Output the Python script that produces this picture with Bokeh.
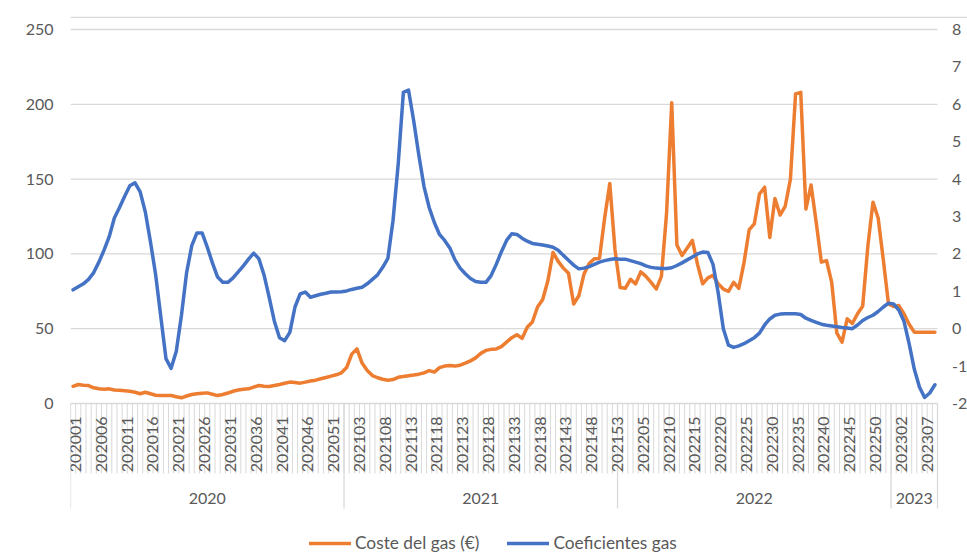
import math
from bokeh.plotting import figure
from bokeh.models import Range1d, FixedTicker
from bokeh.core.properties import value
from bokeh.embed import file_html
from bokeh.resources import INLINE

# ---------------- data ----------------
years = ["2020", "2021", "2022", "2023"]
weeks_per_year = [53, 53, 53, 9]

coste_gas = [
    11.5, 12.7, 12.2, 12.0, 10.5, 9.8, 9.5, 9.8, 9.0, 8.8,
    8.5, 8.2, 7.5, 6.5, 7.5, 6.5, 5.5, 5.3, 5.3, 5.3,
    4.5, 3.8, 5.0, 6.0, 6.5, 6.8, 7.1, 6.2, 5.3, 6.0,
    7.0, 8.2, 9.0, 9.5, 9.8, 11.0, 12.0, 11.6, 11.4, 12.0,
    12.7, 13.5, 14.3, 14.0, 13.6, 14.3, 15.0, 15.6, 16.5, 17.4,
    18.3, 19.2, 20.5, 24.0, 33.0, 36.5, 27.0, 22.0, 18.7, 17.2,
    16.2, 15.5, 16.0, 17.5, 18.0, 18.5, 19.0, 19.6, 20.5, 22.0,
    21.0, 24.0, 25.0, 25.4, 25.0, 25.6, 27.0, 28.5, 30.5, 33.5,
    35.5, 36.2, 36.5, 38.0, 41.0, 44.0, 46.0, 43.5, 51.0, 54.5,
    64.5, 69.5, 82.0, 101.0, 95.0, 90.5, 87.0, 66.5, 72.0, 86.5,
    93.5, 96.7, 97.0, 124.0, 147.0, 103.0, 77.5, 77.0, 83.0, 80.0,
    88.0, 85.0, 81.0, 76.5, 85.0, 127.0, 201.0, 106.0, 99.0, 104.0,
    109.0, 93.0, 80.0, 84.0, 85.6, 80.0, 76.5, 75.0, 81.0, 77.0,
    94.0, 116.0, 120.0, 140.0, 144.6, 111.0, 137.0, 126.0, 132.0, 150.0,
    207.0, 208.0, 130.0, 146.0, 121.0, 94.5, 95.5, 81.0, 47.0, 41.0,
    56.6, 53.5, 60.0, 65.0, 105.0, 134.6, 124.0, 96.0, 66.6, 64.8,
    65.5, 60.0, 53.0, 47.7, 47.7, 47.7, 47.7, 47.7,
]

coeficientes_gas = [
    1.04, 1.12, 1.2, 1.32, 1.5, 1.78, 2.1, 2.46, 2.96, 3.24,
    3.54, 3.82, 3.9, 3.66, 3.12, 2.32, 1.44, 0.32, -0.8, -1.06,
    -0.6, 0.36, 1.5, 2.22, 2.56, 2.56, 2.18, 1.76, 1.38, 1.24,
    1.24, 1.36, 1.52, 1.68, 1.86, 2.02, 1.87, 1.44, 0.84, 0.2,
    -0.24, -0.32, -0.1, 0.58, 0.93, 0.98, 0.84, 0.88, 0.92, 0.95,
    0.98, 0.98, 0.99, 1.01, 1.05, 1.08, 1.11, 1.2, 1.32, 1.44,
    1.64, 1.88, 2.9, 4.4, 6.32, 6.38, 5.56, 4.64, 3.8, 3.24,
    2.84, 2.52, 2.36, 2.16, 1.84, 1.62, 1.47, 1.34, 1.26, 1.24,
    1.24, 1.42, 1.72, 2.06, 2.36, 2.54, 2.52, 2.42, 2.34, 2.28,
    2.26, 2.24, 2.21, 2.18, 2.1, 1.96, 1.83, 1.7, 1.6, 1.62,
    1.66, 1.72, 1.78, 1.82, 1.85, 1.87, 1.86, 1.86, 1.82, 1.78,
    1.74, 1.68, 1.64, 1.62, 1.61, 1.61, 1.63, 1.69, 1.76, 1.84,
    1.92, 2.0, 2.05, 2.04, 1.72, 0.96, 0.0, -0.44, -0.5, -0.46,
    -0.4, -0.32, -0.24, -0.12, 0.1, 0.26, 0.36, 0.39, 0.4, 0.4,
    0.4, 0.38, 0.28, 0.22, 0.17, 0.12, 0.09, 0.07, 0.05, 0.03,
    0.02, 0.0, 0.1, 0.22, 0.3, 0.36, 0.46, 0.58, 0.68, 0.66,
    0.5, 0.2, -0.4, -1.08, -1.56, -1.84, -1.72, -1.5,
]

left_ticks = [0, 50, 100, 150, 200, 250]
right_ticks = [-2, -1, 0, 1, 2, 3, 4, 5, 6, 7, 8]
right_tick_labels = [str(t) for t in right_ticks]
label_every = 5

week_codes = [f"{y}{w:02d}" for y, nw in zip(years, weeks_per_year) for w in range(1, nw + 1)]
n = len(week_codes)
xs = [i + 0.5 for i in range(n)]

# ---------------- layout ----------------
OFF_X, OFF_Y = 9, 16          # figure offset inside the page (top rule at y=16)
W, H = 967 - OFF_X, 552 - OFF_Y
LEFT = 70 - OFF_X              # left axis panel
DATA_W = 867.0                 # pixels covered by the categories
PLOT_H = 374.0                 # pixels between 0 and 250 on the left axis
TOP_GAP = 29 - OFF_Y           # pixels between the top rule and the 250 line
K = PLOT_H / 250.0             # pixels per unit (left axis)
PXU = DATA_W / n               # pixels per category
X_MAX = (W - LEFT) / PXU
Y_TOP = 250 + TOP_GAP / K
Y_MIN = 250 - (H - TOP_GAP) / K


def to_right(v):
    return v / 25.0 - 2.0


FONT = "Lato"
FS = "16px"
FS_LEG = "17.3px"
TXT = "#595959"
GRID = "#D9D9D9"
ORANGE = "#ED7D31"
BLUE = "#4472C4"

p = figure(width=W, height=H, x_range=Range1d(0, X_MAX), y_range=Range1d(Y_MIN, Y_TOP),
           output_backend="svg", toolbar_location=None, x_axis_location=None,
           min_border_left=LEFT, min_border_right=0, min_border_top=0,
           min_border_bottom=0)
p.margin = (OFF_Y, 0, 0, OFF_X)
p.outline_line_color = None
p.background_fill_color = "white"
p.border_fill_color = "white"
p.xgrid.visible = False
p.ygrid.visible = False
p.extra_y_ranges = {"coef": Range1d(to_right(Y_MIN), to_right(Y_TOP))}

ya = p.yaxis[0]
ya.ticker = FixedTicker(ticks=left_ticks)
ya.axis_line_color = None
ya.major_tick_line_color = None
ya.minor_tick_line_color = None
ya.major_tick_out = 0
ya.major_tick_in = 0
ya.major_label_standoff = 17
ya.major_label_text_font = FONT
ya.major_label_text_font_size = FS
ya.major_label_text_color = TXT

# top rule of the chart area
p.segment(x0=[0], y0=[Y_TOP - 0.7 / K], x1=[X_MAX], y1=[Y_TOP - 0.7 / K],
          line_color=GRID, line_width=1.4)

# horizontal gridlines (left-axis ticks) across the category area
p.segment(x0=[0] * len(left_ticks), y0=left_ticks, x1=[n] * len(left_ticks), y1=left_ticks,
          line_color=GRID, line_width=1.3)

# right-axis tick labels
p.text(x=[n] * len(right_ticks), y=right_ticks, text=right_tick_labels, y_range_name="coef",
       x_offset=14.5, text_align="left", text_baseline="middle",
       text_font=value(FONT), text_font_size=FS, text_color=TXT)

# category tick lines in the label band
bounds = list(range(0, n + 1))
p.segment(x0=bounds, y0=[0] * len(bounds), x1=bounds, y1=[-70 / K] * len(bounds),
          line_color=GRID, line_width=1)

# year separators
cum = [0]
for nw in weeks_per_year:
    cum.append(cum[-1] + nw)
p.segment(x0=cum, y0=[0] * len(cum), x1=cum, y1=[-105 / K] * len(cum),
          line_color=GRID, line_width=1.3)

# week labels (every 5th)
lab_idx = list(range(0, n, label_every))
p.text(x=[xs[i] + 2.5 / PXU for i in lab_idx], y=[-13 / K] * len(lab_idx),
       text=[week_codes[i] for i in lab_idx],
       angle=math.pi / 2, text_align="right", text_baseline="middle",
       text_font=value(FONT), text_font_size=FS, text_color=TXT)

# year labels
centers = [(cum[k] + cum[k + 1]) / 2 for k in range(len(years))]
p.text(x=centers, y=[-95 / K] * len(centers), text=years, text_align="center",
       text_baseline="middle",
       text_font=value(FONT), text_font_size=FS, text_color=TXT)

# series
p.line(xs, coste_gas, line_color=ORANGE, line_width=3.5, line_join="round",
       line_cap="round", legend_label="Coste del gas (€)")
p.line(xs, coeficientes_gas, y_range_name="coef", line_color=BLUE, line_width=3.5,
       line_join="round", line_cap="round", legend_label="Coeficientes gas")

lg = p.legend[0]
lg.location = (239, -1)
lg.orientation = "horizontal"
lg.background_fill_alpha = 0
lg.border_line_color = None
lg.padding = 0
lg.margin = 0
lg.spacing = 28
lg.glyph_width = 42
lg.glyph_height = 18
lg.label_standoff = 4
lg.label_text_font = FONT
lg.label_text_font_size = FS_LEG
lg.label_text_color = TXT

open("out.html", "w").write(file_html(p, INLINE))
